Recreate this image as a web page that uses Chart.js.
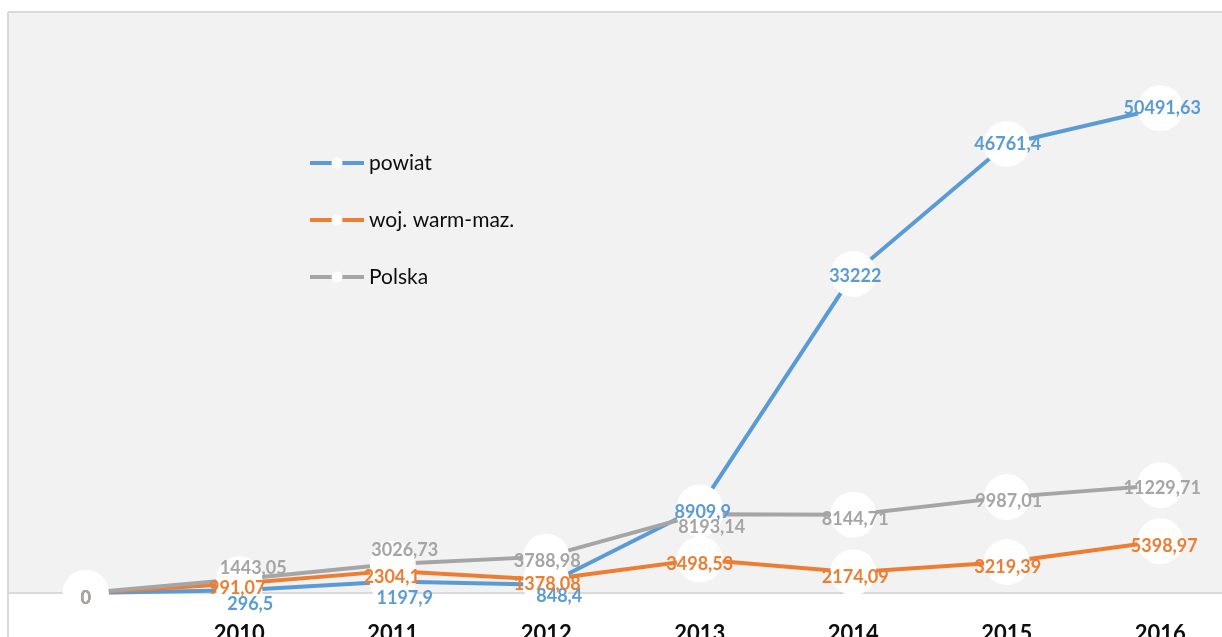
<!DOCTYPE html>
<html>
<head>
<meta charset="utf-8">
<script src="https://cdn.jsdelivr.net/npm/chart.js@4.4.1/dist/chart.umd.min.js"></script>
<style>
  html, body { margin: 0; padding: 0; background: #fff; overflow: hidden; }
  #wrap { position: relative; width: 1222px; height: 637px; overflow: hidden; }
  #wrap canvas { position: absolute; left: 0; top: 0; }
</style>
</head>
<body>
<div id="wrap"><canvas id="lineChart" width="1240" height="680"></canvas></div>
<script>
// Data
var categories = ['', '2010', '2011', '2012', '2013', '2014', '2015', '2016'];
var seriesNames = ['powiat', 'woj. warm-maz.', 'Polska'];
var powiat = [0, 296.5, 1197.9, 848.4, 8909.9, 33222, 46761.4, 50491.63];
var wojWarmMaz = [0, 991.07, 2304.1, 1378.08, 3498.53, 2174.09, 3219.39, 5398.97];
var polska = [0, 1443.05, 3026.73, 3788.98, 8193.14, 8144.71, 9987.01, 11229.71];

var colors = ['#5b9bd5', '#ed7d31', '#a5a5a5'];

// label offsets (px) from each point, as placed in the original
var labelOffsets = [
    [[0, 5], [11, 14], [12, 17], [13, 11], [3, 5], [2, 2], [1, 0], [2, 0]],
    [[0, 5], [-2, 5], [-1, 6], [1, 4], [0, 5], [2, 5], [1, 5], [4, 5]],
    [[0, 5], [14, -11], [12, -14], [1, 5], [12, 13], [2, 4], [2, 4], [2, 3]]
];

function fmt(v) {
    return String(v).replace('.', ',');
}

// background, frame and grey plot area
var backgroundPlugin = {
    id: 'background',
    beforeDraw: function (chart) {
        var c = chart.ctx, a = chart.chartArea;
        c.save();
        c.fillStyle = '#ffffff';
        c.fillRect(0, 0, chart.width, chart.height);
        c.fillStyle = '#f2f2f2';
        c.fillRect(a.left, 13, a.right - a.left, a.bottom - 13);
        c.strokeStyle = '#d9d9d9';
        c.lineWidth = 2;
        c.beginPath();
        c.moveTo(8, 12);
        c.lineTo(chart.width, 12);
        c.moveTo(8, 12);
        c.lineTo(8, chart.height);
        c.stroke();
        c.restore();
    }
};

// value labels
var labelPlugin = {
    id: 'valueLabels',
    afterDatasetsDraw: function (chart) {
        var c = chart.ctx;
        c.save();
        c.font = 'bold 18px Lato';
        c.textAlign = 'center';
        c.textBaseline = 'middle';
        chart.data.datasets.forEach(function (ds, d) {
            var meta = chart.getDatasetMeta(d);
            meta.data.forEach(function (pt, i) {
                var off = labelOffsets[d][i];
                c.fillStyle = colors[d];
                c.fillText(fmt(ds.data[i]), pt.x + off[0], pt.y + off[1]);
            });
        });
        c.restore();
    }
};

// legend inside the plot
var legendPlugin = {
    id: 'insideLegend',
    afterDraw: function (chart) {
        var c = chart.ctx;
        c.save();
        c.font = '21px Lato';
        c.textAlign = 'left';
        c.textBaseline = 'middle';
        seriesNames.forEach(function (name, i) {
            var y = 163 + i * 57;
            c.strokeStyle = colors[i];
            c.lineWidth = 4;
            c.beginPath();
            c.moveTo(310, y);
            c.lineTo(364, y);
            c.stroke();
            c.fillStyle = '#ffffff';
            c.beginPath();
            c.arc(337, y, 5.5, 0, Math.PI * 2);
            c.fill();
            c.fillStyle = '#0d0d0d';
            c.fillText(name, 369, y);
        });
        c.restore();
    }
};

function makeSet(label, data, color, order) {
    return {
        label: label,
        data: data,
        borderColor: color,
        backgroundColor: '#ffffff',
        borderWidth: 4,
        pointRadius: 23,
        pointBorderWidth: 0,
        pointBackgroundColor: '#ffffff',
        pointHoverRadius: 23,
        tension: 0,
        clip: false,
        order: order
    };
}

var ctx = document.getElementById('lineChart').getContext('2d');

var chartData = {
    labels: categories,
    datasets: [
        makeSet(seriesNames[0], powiat, colors[0], 3),
        makeSet(seriesNames[1], wojWarmMaz, colors[1], 2),
        makeSet(seriesNames[2], polska, colors[2], 1)
    ]
};

var chartOptions = {
    responsive: false,
    animation: false,
    layout: { autoPadding: false, padding: { left: 9, top: 17, right: 3, bottom: 0 } },
    plugins: {
        legend: { display: false },
        tooltip: { enabled: false }
    },
    scales: {
        x: {
            type: 'category',
            offset: true,
            grid: { color: 'rgba(0,0,0,0)', drawTicks: false },
            border: { display: true, color: '#d9d9d9', width: 2 },
            ticks: {
                color: '#0d0d0d',
                font: { family: 'Lato', size: 22, weight: 'bold' },
                padding: 28,
                maxRotation: 0,
                autoSkip: false
            },
            afterFit: function (scale) {
                scale.height = 87;
                scale.paddingLeft = 0;
                scale.paddingRight = 0;
            }
        },
        y: {
            display: false,
            min: 0,
            max: 60000
        }
    }
};

var lineChart = new Chart(ctx, {
    type: 'line',
    data: chartData,
    options: chartOptions,
    plugins: [backgroundPlugin, labelPlugin, legendPlugin]
});
</script>
</body>
</html>
